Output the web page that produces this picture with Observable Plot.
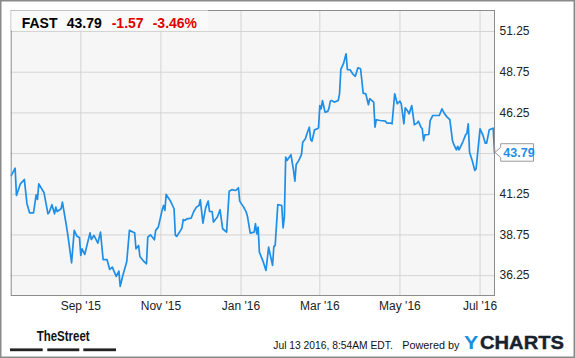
<!DOCTYPE html>
<html><head><meta charset="utf-8">
<script src="https://cdn.jsdelivr.net/npm/d3@7"></script>
<script src="https://cdn.jsdelivr.net/npm/@observablehq/plot@0.6"></script>
<style>
html,body{margin:0;padding:0;background:#fff;}
#chart svg{display:block;}
</style></head><body><div id="chart"></div>
<script>
const dates = [
"2015-07-10","2015-07-13","2015-07-14","2015-07-17","2015-07-20","2015-07-22","2015-07-24","2015-07-27","2015-07-29","2015-07-30","2015-07-31",
"2015-08-04","2015-08-07","2015-08-08","2015-08-10","2015-08-12","2015-08-13","2015-08-14","2015-08-17","2015-08-18","2015-08-21","2015-08-22","2015-08-25","2015-08-27","2015-08-29","2015-08-31",
"2015-09-01","2015-09-02","2015-09-04","2015-09-08","2015-09-09","2015-09-11","2015-09-14","2015-09-16","2015-09-18","2015-09-21","2015-09-23","2015-09-25","2015-09-26","2015-09-28","2015-09-30",
"2015-10-01","2015-10-03","2015-10-06","2015-10-08","2015-10-11","2015-10-12","2015-10-13","2015-10-15","2015-10-16","2015-10-19","2015-10-21","2015-10-22","2015-10-24","2015-10-27","2015-10-28","2015-10-30",
"2015-11-02","2015-11-03","2015-11-04","2015-11-05","2015-11-08","2015-11-11","2015-11-12","2015-11-13","2015-11-16","2015-11-17","2015-11-18","2015-11-19","2015-11-21","2015-11-24","2015-11-26","2015-11-28","2015-11-30",
"2015-12-01","2015-12-03","2015-12-05","2015-12-07","2015-12-08","2015-12-10","2015-12-11","2015-12-14","2015-12-16","2015-12-18","2015-12-21","2015-12-23","2015-12-25","2015-12-28","2015-12-30","2015-12-31",
"2016-01-03","2016-01-05","2016-01-06","2016-01-08","2016-01-11","2016-01-12","2016-01-13","2016-01-14","2016-01-15","2016-01-18","2016-01-20","2016-01-22","2016-01-25","2016-01-26","2016-01-27","2016-01-29",
"2016-02-01","2016-02-02","2016-02-03","2016-02-04","2016-02-05","2016-02-08","2016-02-10","2016-02-11","2016-02-12","2016-02-14","2016-02-16","2016-02-17","2016-02-19","2016-02-20","2016-02-22","2016-02-23","2016-02-24","2016-02-26","2016-02-28","2016-02-29",
"2016-03-01","2016-03-02","2016-03-03","2016-03-05","2016-03-07","2016-03-08","2016-03-09","2016-03-10","2016-03-12","2016-03-15","2016-03-16","2016-03-17","2016-03-19","2016-03-21","2016-03-22","2016-03-24","2016-03-26","2016-03-28","2016-03-30",
"2016-04-01","2016-04-02","2016-04-03","2016-04-05","2016-04-07","2016-04-08","2016-04-11","2016-04-12","2016-04-13","2016-04-16","2016-04-20","2016-04-21","2016-04-24","2016-04-25","2016-04-27","2016-04-29",
"2016-05-01","2016-05-02","2016-05-04","2016-05-05","2016-05-07","2016-05-08","2016-05-10","2016-05-12","2016-05-14","2016-05-15","2016-05-17","2016-05-18","2016-05-19","2016-05-20","2016-05-23","2016-05-24","2016-05-26","2016-05-28","2016-05-31",
"2016-06-02","2016-06-04","2016-06-06","2016-06-08","2016-06-10","2016-06-11","2016-06-13","2016-06-14","2016-06-15","2016-06-18","2016-06-20","2016-06-21","2016-06-22","2016-06-23","2016-06-25","2016-06-27","2016-06-28",
"2016-07-01","2016-07-03","2016-07-05","2016-07-06","2016-07-08","2016-07-11","2016-07-12"
];
const prices = [
42.40,42.85,41.18,41.89,42.16,40.67,40.11,40.11,41.22,40.93,41.89,
41.34,40.05,40.15,40.61,40.05,40.46,40.19,40.36,40.77,39.33,38.82,37.04,39.03,38.68,38.58,
37.49,37.90,37.55,38.88,38.47,38.72,38.25,38.92,37.23,37.23,36.63,36.77,36.57,36.20,36.53,
35.59,36.26,37.12,39.03,38.92,38.88,37.90,38.10,37.43,37.12,36.98,38.61,38.76,38.45,39.03,39.23,
40.30,40.56,40.26,41.24,40.87,40.36,38.72,38.66,39.03,39.17,39.70,39.64,39.74,39.78,40.19,40.46,40.56,
40.91,39.48,40.40,40.83,40.19,40.19,39.54,39.85,40.30,39.13,38.92,41.44,41.53,41.48,41.65,40.83,
40.46,40.15,39.85,38.86,38.92,39.44,38.82,39.23,37.69,37.08,36.57,38.00,36.88,38.04,38.10,40.61,
40.56,39.19,39.85,43.53,43.33,43.68,42.71,42.06,43.08,43.33,43.68,44.45,44.66,44.92,45.37,44.60,44.51,45.21,45.27,45.33,
46.70,46.50,47.01,46.29,46.34,46.54,46.97,47.01,46.91,47.01,47.42,48.92,49.27,49.88,48.90,48.90,48.65,48.50,49.02,
48.96,48.24,47.46,47.42,46.75,47.12,46.91,45.37,45.83,45.78,45.74,45.62,45.62,45.58,47.42,46.81,
46.97,46.81,45.58,46.56,46.35,46.19,46.70,45.52,45.62,45.74,45.37,45.27,44.55,44.90,44.92,45.78,46.09,46.09,46.09,
46.50,46.19,45.99,45.83,44.55,44.31,43.98,44.19,43.98,44.49,44.90,45.00,45.58,43.83,43.33,42.71,42.82,
45.27,44.92,44.39,44.39,45.21,45.31,43.79
];
const yGrid = [36.25, 38.75, 41.25, 43.75, 46.25, 48.75, 51.25];
const yTickLabels = [36.25, 38.75, 41.25, 46.25, 48.75, 51.25];
const xTicks = ["2015-09-01","2015-11-01","2016-01-01","2016-03-01","2016-05-01","2016-07-01"];
const xTickLabels = ["Sep '15","Nov '15","Jan '16","Mar '16","May '16","Jul '16"];
const xDomain = ["2015-07-10","2016-07-12"];
const yDomain = [35.03, 52.54];
const ticker = "FAST";
const lastPrice = "43.79";
const change = "-1.57";
const changePct = "-3.46%";
const timestamp = "Jul 13 2016, 8:54AM EDT.";
const poweredBy = "Powered by";
const brandLeft = "TheStreet";
const brandY = "Y";
const brandRest = "CHARTS";

const FONT = "'Liberation Sans', Arial, Helvetica, sans-serif";
const BLUE = "#1e8ee6";
const data = dates.map((d, i) => ({date: new Date(d), price: prices[i]}));
const xTickDates = xTicks.map(d => new Date(d));
const labelFor = d => xTickLabels[xTickDates.findIndex(t => +t === +d)];

const plot = Plot.plot({
  width: 575, height: 358,
  marginLeft: 10.7, marginRight: 81, marginTop: 10, marginBottom: 63,
  style: {fontFamily: FONT, fontSize: "12px", color: "#333", background: "#fff", overflow: "visible"},
  x: {type: "utc", domain: xDomain.map(d => new Date(d))},
  y: {domain: yDomain},
  marks: [
    Plot.frame({fill: "#f6f6f6", stroke: null}),
    Plot.gridX(xTickDates, {stroke: "#d4d4d4", strokeOpacity: 1}),
    Plot.gridY(yGrid, {stroke: "#d4d4d4", strokeOpacity: 1}),
    Plot.axisX(xTickDates, {tickSize: 0, tickPadding: 6, tickFormat: labelFor, fontSize: 12, fill: "#222", label: null}),
    Plot.axisY(yTickLabels, {anchor: "right", tickSize: 0, tickPadding: 5, tickFormat: d => d.toFixed(2), fontSize: 12, fill: "#222", label: null}),
    Plot.lineY(data, {x: "date", y: "price", stroke: BLUE, strokeWidth: 1.7}),
    Plot.frame({stroke: "#8c8c8c", strokeWidth: 1})
  ]
});
document.getElementById("chart").appendChild(plot);

const svg = d3.select(plot);
const xs = plot.scale("x"), ys = plot.scale("y");
const extra = svg.append("g").attr("text-anchor", "start");

// header box
extra.append("rect").attr("x", 11.2).attr("y", 10.5).attr("width", 197).attr("height", 20)
  .attr("fill", "#fafafa");
const hdrText = extra.append("text").attr("y", 28.3).attr("font-family", FONT)
  .attr("font-weight", "bold").attr("font-size", 14);
hdrText.append("tspan").attr("x", 21.7).attr("fill", "#000").text(ticker);
hdrText.append("tspan").attr("x", 66.7).attr("fill", "#000").text(lastPrice);
hdrText.append("tspan").attr("x", 111.7).attr("fill", "#e00000").text(change);
hdrText.append("tspan").attr("x", 152.7).attr("fill", "#e00000").text(changePct);

// last value callout
const last = data[data.length - 1];
const lx = xs.apply(last.date), ly = ys.apply(last.price);
const bx = lx + 6.7, boxTop = ly - 8.7, boxBot = ly + 8.8, rx = lx + 39.5;
extra.append("path")
  .attr("d", `M${lx + 1},${ly} L${bx},${ly - 5} L${bx},${boxTop} L${rx},${boxTop} L${rx},${boxBot} L${bx},${boxBot} L${bx},${ly + 5} Z`)
  .attr("fill", "#fff").attr("stroke", "#9a9a9a").attr("stroke-width", 1);
extra.append("text").attr("x", bx + 2.6).attr("y", ly + 4.4)
  .attr("font-family", FONT).attr("font-weight", "bold").attr("font-size", 12.5)
  .attr("fill", BLUE).text(lastPrice);

// footer: TheStreet
extra.append("text").attr("x", 36.7).attr("y", 340.7).attr("font-family", FONT)
  .attr("font-weight", "bold").attr("font-size", 14.5).attr("fill", "#111")
  .attr("textLength", 53).attr("lengthAdjust", "spacingAndGlyphs").text(brandLeft);
[[10, 42.7], [47.3, 79.3], [83.3, 116]].forEach(([a, b]) => {
  extra.append("rect").attr("x", a).attr("y", 348.4).attr("width", b - a).attr("height", 2.8).attr("fill", "#222");
});

// footer: timestamp + powered by
extra.append("text").attr("x", 273.3).attr("y", 349).attr("font-family", FONT)
  .attr("font-size", 10.5).attr("fill", "#111")
  .attr("textLength", 119.5).attr("lengthAdjust", "spacingAndGlyphs").text(timestamp);
extra.append("text").attr("x", 402.3).attr("y", 349).attr("font-family", FONT)
  .attr("font-size", 10.5).attr("fill", "#111")
  .attr("textLength", 57).attr("lengthAdjust", "spacingAndGlyphs").text(poweredBy);
extra.append("text").attr("x", 464).attr("y", 348.7).attr("font-family", FONT)
  .attr("font-weight", "bold").attr("font-size", 19).attr("fill", "#1b8fe0")
  .attr("textLength", 14.3).attr("lengthAdjust", "spacingAndGlyphs").text(brandY);
extra.append("text").attr("x", 480).attr("y", 348.7).attr("font-family", FONT)
  .attr("font-weight", "bold").attr("font-size", 19).attr("fill", "#17222e")
  .attr("stroke", "#17222e").attr("stroke-width", 0.4)
  .attr("textLength", 84).attr("lengthAdjust", "spacingAndGlyphs").text(brandRest);

// outer frame
extra.append("rect").attr("x", 0.75).attr("y", 0.75).attr("width", 573.5).attr("height", 356.5)
  .attr("fill", "none").attr("stroke", "#8a8a8a").attr("stroke-width", 1.5);
</script></body></html>
